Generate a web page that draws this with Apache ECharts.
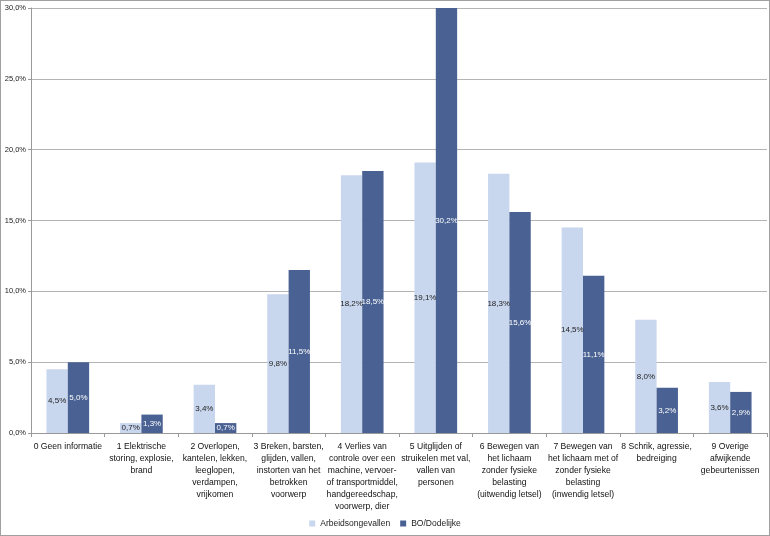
<!DOCTYPE html>
<html><head><meta charset="utf-8">
<script src="https://cdn.jsdelivr.net/npm/echarts@6/dist/echarts.min.js"></script>
<style>
html,body{margin:0;padding:0;background:#fff;}
#c{width:768px;height:534px;border:1px solid #a0a0a0;}
</style></head>
<body><div id="c"></div>
<script>
var categories = [
  "0 Geen informatie",
  "1 Elektrische\nstoring, explosie,\nbrand",
  "2 Overlopen,\nkantelen, lekken,\nleeglopen,\nverdampen,\nvrijkomen",
  "3 Breken, barsten,\nglijden, vallen,\ninstorten van het\nbetrokken\nvoorwerp",
  "4 Verlies van\ncontrole over een\nmachine, vervoer-\nof transportmiddel,\nhandgereedschap,\nvoorwerp, dier",
  "5 Uitglijden of\nstruikelen met val,\nvallen van\npersonen",
  "6 Bewegen van\nhet lichaam\nzonder fysieke\nbelasting\n(uitwendig letsel)",
  "7 Bewegen van\nhet lichaam met of\nzonder fysieke\nbelasting\n(inwendig letsel)",
  "8 Schrik, agressie,\nbedreiging",
  "9 Overige\nafwijkende\ngebeurtenissen"
];
var seriesNames = ["Arbeidsongevallen", "BO/Dodelijke"];
var arbeidsongevallen = [4.5, 0.7, 3.4, 9.8, 18.2, 19.1, 18.3, 14.5, 8.0, 3.6];
var boDodelijke = [5.0, 1.3, 0.7, 11.5, 18.5, 30.2, 15.6, 11.1, 3.2, 2.9];

function fmt(v){ return v.toFixed(1).replace('.', ',') + '%'; }
var font = 'Liberation Sans, Arial, Helvetica, sans-serif';
var chart = echarts.init(document.getElementById('c'));
chart.setOption({
  animation: false,
  textStyle: {fontFamily: font},
  grid: {left: 30, right: 2, top: 7, bottom: 102, containLabel: false},
  legend: {
    bottom: 2, left: 'center', itemWidth: 6, itemHeight: 6, itemGap: 10,
    icon: 'rect',
    textStyle: {fontSize: 8.5, color: '#222', fontFamily: font},
    data: seriesNames
  },
  xAxis: {
    type: 'category', data: categories,
    axisLine: {lineStyle: {color: '#999'}},
    axisTick: {show: true, interval: 0, length: 4, lineStyle: {color: '#999'}},
    axisLabel: {interval: 0, fontSize: 8.6, lineHeight: 12, color: '#111', margin: 8, fontFamily: font}
  },
  yAxis: {
    type: 'value', min: 0, max: 30, interval: 5,
    axisLine: {show: true, lineStyle: {color: '#999'}},
    axisTick: {show: true, length: 3, lineStyle: {color: '#999'}},
    splitLine: {lineStyle: {color: '#b4b4b4'}},
    axisLabel: {fontSize: 7.5, color: '#222', margin: 5, formatter: function(v){return fmt(v);}, fontFamily: font}
  },
  series: [
    {
      name: seriesNames[0], type: 'bar', data: arbeidsongevallen,
      barGap: '0%', barCategoryGap: '42%',
      itemStyle: {color: '#c8d6ee'},
      label: {show: true, position: 'inside', fontSize: 8, color: '#222', formatter: function(p){return fmt(p.value);}}
    },
    {
      name: seriesNames[1], type: 'bar', data: boDodelijke,
      barGap: '0%', barCategoryGap: '42%',
      itemStyle: {color: '#4a6293'},
      label: {show: true, position: 'inside', fontSize: 8, color: '#fff', formatter: function(p){return fmt(p.value);}}
    }
  ]
});
</script></body></html>
